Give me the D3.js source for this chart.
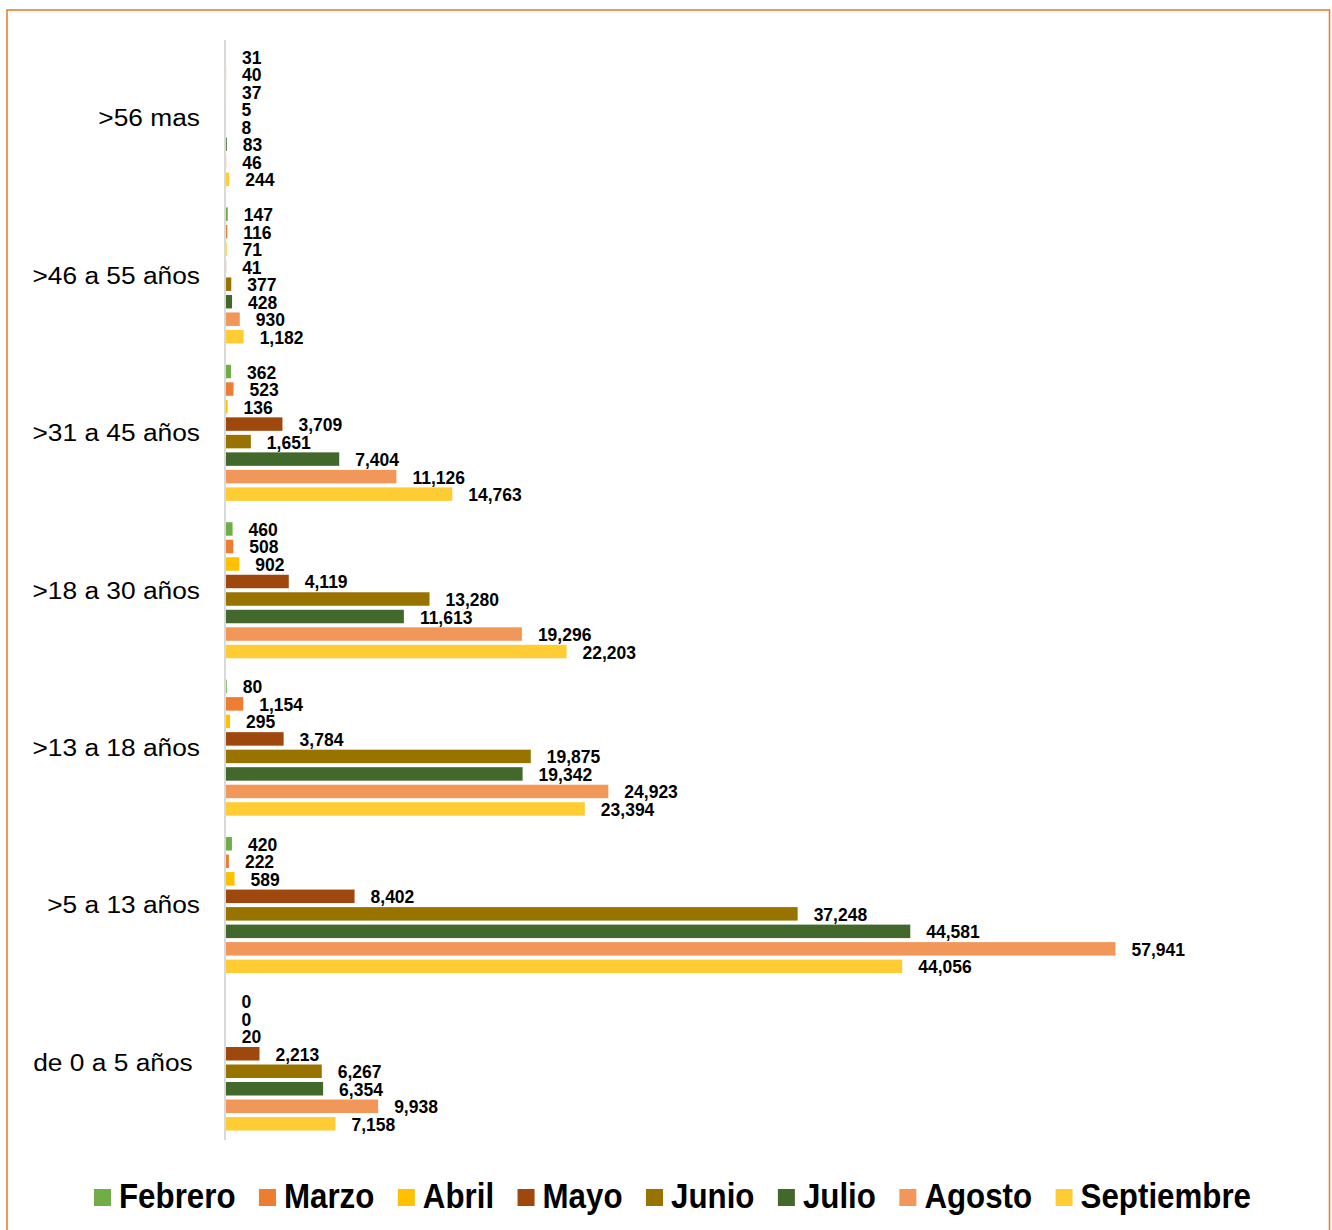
<!DOCTYPE html>
<html><head><meta charset="utf-8">
<script src="https://cdn.jsdelivr.net/npm/d3@7"></script>
<style>
html,body{margin:0;padding:0;background:#fff;}
svg{display:block;font-family:Arial,"Liberation Sans",sans-serif;}
</style></head>
<body>
<svg id="chart" width="1332" height="1230"></svg>
<script>
const categories = [">56 mas", ">46 a 55 años", ">31 a 45 años", ">18 a 30 años", ">13 a 18 años", ">5 a 13 años", "de 0 a 5 años "];
const seriesNames = ["Febrero", "Marzo", "Abril", "Mayo", "Junio", "Julio", "Agosto", "Septiembre"];
const seriesColors = ["#70AD47", "#ED7D31", "#FFC000", "#9E480E", "#997300", "#43682B", "#F1975A", "#FFCD33"];
const febrero    = [31, 147, 362, 460, 80, 420, 0];
const marzo      = [40, 116, 523, 508, 1154, 222, 0];
const abril      = [37, 71, 136, 902, 295, 589, 20];
const mayo       = [5, 41, 3709, 4119, 3784, 8402, 2213];
const junio      = [8, 377, 1651, 13280, 19875, 37248, 6267];
const julio      = [83, 428, 7404, 11613, 19342, 44581, 6354];
const agosto     = [46, 930, 11126, 19296, 24923, 57941, 9938];
const septiembre = [244, 1182, 14763, 22203, 23394, 44056, 7158];
const xMax = 60000;

const seriesValues = [febrero, marzo, abril, mayo, junio, julio, agosto, septiembre];
const svg = d3.select("#chart");

// border
svg.append("rect").attr("x", 7).attr("y", 10).attr("width", 1322.5).attr("height", 1240)
  .attr("fill", "none").attr("stroke", "#ED7D31").attr("stroke-width", 1.6);

const x = d3.scaleLinear().domain([0, xMax]).range([225, 225 + 890 * xMax / 57941]);
const y0 = d3.scaleBand().domain(categories).range([39.3, 1141.2]).paddingInner(0.11).paddingOuter(0.055);
const y1 = d3.scaleBand().domain(seriesNames).range([0, y0.bandwidth()]).paddingInner(0.23).paddingOuter(0.115);

const fmt = d3.format(",");

const groups = svg.append("g").selectAll("g").data(categories).join("g")
  .attr("transform", c => `translate(0,${y0(c)})`);

groups.each(function(c, ci) {
  const g = d3.select(this);
  seriesNames.forEach((s, si) => {
    const v = seriesValues[si][ci];
    g.append("rect")
      .attr("x", x(0) + 0.5)
      .attr("y", y1(s))
      .attr("width", Math.max(0, x(v) - x(0)))
      .attr("height", y1.bandwidth())
      .attr("fill", seriesColors[si]);
    g.append("text")
      .attr("x", x(v) + 16.5)
      .attr("y", y1(s) + y1.bandwidth() / 2)
      .attr("dy", "0.4em")
      .attr("font-size", 17.5)
      .attr("font-weight", "bold")
      .attr("fill", "#000")
      .text(fmt(v));
  });
});

// axis line
svg.append("line").attr("x1", x(0)).attr("x2", x(0))
  .attr("y1", 40).attr("y2", 1140).attr("stroke", "#D9D9D9").attr("stroke-width", 2);

// category labels
svg.append("g").selectAll("text").data(categories).join("text")
  .attr("transform", c => `translate(200,${y0(c) + y0.bandwidth() / 2 + 8.4}) scale(1.12,1)`)
  .attr("text-anchor", "end")
  .attr("font-size", 23.5)
  .attr("fill", "#000")
  .attr("xml:space", "preserve")
  .style("white-space", "pre")
  .text(c => c);

// legend
const legend = svg.append("g");
const legFont = 31.3;
const items = legend.selectAll("g").data(seriesNames).join("g");
items.append("rect").attr("width", 17).attr("height", 17).attr("y", 1189)
  .attr("fill", (d, i) => seriesColors[i]);
const texts = items.append("text")
  .attr("font-size", legFont).attr("font-weight", "bold").attr("fill", "#000")
  .attr("transform", "translate(25,1208) scale(1,1.12)")
  .text(d => d);
const widths = [];
texts.each(function() { widths.push(this.getComputedTextLength()); });
const left = 94, right = 1251;
const totalText = d3.sum(widths) + 25 * seriesNames.length;
const gap = (right - left - totalText) / (seriesNames.length - 1);
let cx = left;
items.attr("transform", (d, i) => {
  const t = `translate(${cx},0)`;
  cx += 25 + widths[i] + gap;
  return t;
});
</script>
</body></html>
